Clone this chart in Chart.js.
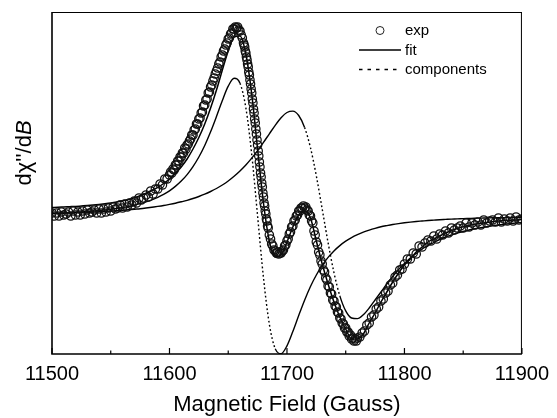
<!DOCTYPE html>
<html><head><meta charset="utf-8">
<script src="https://cdn.jsdelivr.net/npm/chart.js@4"></script>
<style>html,body{margin:0;padding:0;background:#fff}#wrap{width:557px;height:418px}</style>
</head><body><div id="wrap"><canvas id="c" width="557" height="418"></canvas></div>
<script>
// ---- tick labels / texts ----
const xTicks = [11500, 11600, 11700, 11800, 11900];
const xMinorTicks = [11550, 11650, 11750, 11850];
const legendLabels = ['exp', 'fit', 'components'];
const xTitle = 'Magnetic Field (Gauss)';
const yTitleMain = "d\u03c7''/d";
const yTitleItalic = 'B';

// ---- line series: sampled every 5 G from 11500 to 11900 ----
const lineStart = 11500, lineStep = 5;
const fitSignal = [8.5,8.7,9,9.3,9.6,10,10.4,10.9,11.5,12.2,13,14,15.2,16.6,18.3,20.3,22.7,25.5,28.7,32.5,37,
  42.5,49,57,67,78.5,92,108,126,146,165,179,180,162,122,67,13,-25,-41,-39,-26,
  -11,1,5,-2,-25,-48,-68,-86,-101,-113,-123,-123,-118,-107,-97,-86,-76,-66,-57,-49,
  -43,-36,-31,-26,-23,-20,-17,-14.5,-12.5,-10.8,-9.4,-8.2,-7.2,-6.4,-5.7,-5.1,-4.6,-4.2,-3.9,-3.6];
const narrowSignal = [2.6,2.9,3.1,3.4,3.7,4.1,4.5,5.0,5.5,6.1,6.8,7.6,8.5,9.6,10.8,12.3,14.1,16.2,18.7,21.6,25.2,
  29.6,34.9,41.4,49.4,59.0,70.5,84.2,99.5,115.5,129.8,137.7,132.8,108.2,61.7,0,-61.7,-108.2,-132.8,-137.7,-129.8,
  -115.5,-99.5,-84.2,-70.5,-59.0,-49.4,-41.4,-34.9,-29.6,-25.2,-21.6,-18.7,-16.2,-14.1,-12.3,-10.8,-9.6,-8.5,-7.6,-6.8,
  -6.1,-5.5,-5.0,-4.5,-4.1,-3.7,-3.4,-3.1,-2.9,-2.6,-2.4,-2.2,-2.1,-1.9,-1.8,-1.7,-1.6,-1.5,-1.4,-1.3];
const broadSignal = [2.5,2.6,2.8,3.0,3.2,3.4,3.7,3.9,4.2,4.6,4.9,5.3,5.7,6.2,6.8,7.3,8.0,8.8,9.6,10.5,11.6,
  12.8,14.2,15.7,17.5,19.5,21.8,24.5,27.5,31.0,35.0,39.7,45.0,51.0,57.9,65.4,73.6,82.2,90.7,98.2,103.5,
  104.9,100.5,88.6,68.3,40.1,6.9,-26.7,-56.7,-79.9,-94.9,-102.0,-102.6,-98.7,-92.0,-84.0,-76,-68,-60.5,-53.5,-47.5,
  -42,-37.5,-33,-29.5,-26.5,-23.5,-21,-19,-17,-15.5,-14,-12.8,-11.7,-10.7,-9.8,-9,-8.3,-7.6,-7,-6.5];

// ---- experimental points: sampling grid [start, step, count] and signal ----
const expGrid = [[11500,2,51],[11601,1,63],[11663.5,0.5,42],[11685,1,38],[11723,1,38],[11762,2,20],[11802.5,2.5,40]];
const expSignal = [
  3,0,3,0,4,1,2,4,0,5,1,4,1,5,2,6,3,4,6,3,7,3,7,4,8,5,9,7,8,11,8,12,9,13,11,15,13,18,16,18,21,19,25,22,27,27,32,31,37,37,41,
  44,43,47,46,51,51,55,55,59,59,63,63,68,67,71,72,75,77,81,81,86,87,92,92,97,98,103,104,110,111,116,117,123,124,129,131,
  135,138,142,145,148,152,154,159,161,165,167,171,173,177,178,182,183,187,187,189,188,189,186,185,181,178,173,
  171,169,165,163,159,156,152,149,144,141,136,132,127,123,117,113,107,103,97,93,87,82,76,71,65,60,54,49,43,39,33,29,23,19,13,10,5,2,-3,-5,-10,-12,
  -19,-23,-28,-30,-34,-35,-37,-36,-38,-37,-37,-35,-34,-30,-29,-25,-23,-18,-16,-11,-10,-5,-4,0,1,5,5,8,8,10,8,9,6,5,1,0,-5,-7,
  -15,-19,-26,-29,-36,-39,-45,-48,-54,-56,-62,-64,-70,-71,-77,-78,-84,-85,-90,-91,-96,-97,-102,-103,-107,-108,-112,-112,-116,-116,-120,-119,-123,-122,-125,-123,-125,-122,
  -121,-117,-115,-109,-107,-101,-99,-93,-91,-85,-83,-77,-75,-69,-67,-61,-59,-54,-53,-48,
  -43,-43,-37,-38,-30,-31,-27,-24,-25,-20,-23,-18,-19,-15,-17,-12,-14,-12,-10,-12,-7,-11,-7,-9,-6,-9,-4,-7,-5,-4,-6,-2,-6,-3,-5,-2,-5,-1,-4,-3
];

// ---- build point lists ----
const lineField = fitSignal.map((_, i) => lineStart + i * lineStep);
const expField = [];
expGrid.forEach(([s, st, n]) => { for (let i = 0; i < n; i++) expField.push(s + i * st); });
const pts = (xs, ys) => ys.map((y, i) => ({x: xs[i], y}));

const FONT = "'Liberation Sans', Arial, Helvetica, sans-serif";
// dotted look where the component line is steep (as in the original rendering)
const steepDash = c => Math.abs(c.p1.y - c.p0.y) > 3 * Math.abs(c.p1.x - c.p0.x) ? [1.8, 2.4] : undefined;

const decor = {
  id: 'decor',
  afterDraw(chart) {
    const {ctx, chartArea: {left, right, top, bottom}, scales: {x}} = chart;
    ctx.save();
    ctx.strokeStyle = '#000';
    ctx.lineWidth = 1;
    ctx.beginPath();
    ctx.moveTo(left, top + 0.5); ctx.lineTo(right, top + 0.5);
    ctx.moveTo(right - 0.5, top); ctx.lineTo(right - 0.5, bottom);
    ctx.stroke();
    ctx.lineWidth = 1.6;
    ctx.beginPath();
    ctx.moveTo(left, top); ctx.lineTo(left, bottom); ctx.lineTo(right, bottom);
    ctx.stroke();
    ctx.lineWidth = 1.2;
    ctx.beginPath();
    xTicks.forEach(v => { const p = x.getPixelForValue(v); ctx.moveTo(p, bottom); ctx.lineTo(p, bottom - 6); });
    xMinorTicks.forEach(v => { const p = x.getPixelForValue(v); ctx.moveTo(p, bottom); ctx.lineTo(p, bottom - 3.5); });
    ctx.stroke();

    // y axis title (rotated, with italic B)
    ctx.fillStyle = '#000';
    ctx.translate(31, 153);
    ctx.rotate(-Math.PI / 2);
    ctx.textBaseline = 'alphabetic';
    ctx.textAlign = 'left';
    const fN = '22px ' + FONT, fI = 'italic 22px ' + FONT;
    ctx.font = fN; const w1 = ctx.measureText(yTitleMain).width;
    ctx.font = fI; const w2 = ctx.measureText(yTitleItalic).width;
    const x0 = -(w1 + w2) / 2;
    ctx.font = fN; ctx.fillText(yTitleMain, x0, 0);
    ctx.font = fI; ctx.fillText(yTitleItalic, x0 + w1, 0);
    ctx.setTransform(1, 0, 0, 1, 0, 0);

    // legend
    const mx0 = 359, mx1 = 401, tx = 405;
    const rows = [30.5, 50, 69.5];
    const base = [34.5, 54.5, 74];
    ctx.lineWidth = 1;
    ctx.strokeStyle = '#222';
    ctx.beginPath(); ctx.arc((mx0 + mx1) / 2, rows[0], 4, 0, Math.PI * 2); ctx.stroke();
    ctx.strokeStyle = '#000';
    ctx.lineWidth = 1.5;
    ctx.beginPath(); ctx.moveTo(mx0, rows[1]); ctx.lineTo(mx1, rows[1]); ctx.stroke();
    ctx.setLineDash([3.5, 5]);
    ctx.beginPath(); ctx.moveTo(mx0, rows[2]); ctx.lineTo(mx1, rows[2]); ctx.stroke();
    ctx.setLineDash([]);
    ctx.font = '15px ' + FONT;
    ctx.textBaseline = 'alphabetic';
    legendLabels.forEach((t, i) => ctx.fillText(t, tx, base[i]));
    ctx.restore();
  }
};

new Chart(document.getElementById('c'), {
  type: 'scatter',
  data: {
    datasets: [
      {label: legendLabels[0], data: pts(expField, expSignal), showLine: false, pointRadius: 4.2, pointHoverRadius: 4.2,
        pointBorderWidth: 1.25, pointBorderColor: '#111', pointBackgroundColor: 'rgba(255,255,255,0)'},
      {label: legendLabels[1], data: pts(lineField, fitSignal), showLine: true, pointRadius: 0, borderColor: '#000',
        borderWidth: 1.5, cubicInterpolationMode: 'monotone'},
      {label: legendLabels[2], data: pts(lineField, narrowSignal), showLine: true, pointRadius: 0, borderColor: '#000',
        borderWidth: 1.4, cubicInterpolationMode: 'monotone', segment: {borderDash: steepDash}},
      {label: legendLabels[2], data: pts(lineField, broadSignal), showLine: true, pointRadius: 0, borderColor: '#000',
        borderWidth: 1.4, cubicInterpolationMode: 'monotone', segment: {borderDash: steepDash}}
    ]
  },
  options: {
    responsive: false, animation: false, devicePixelRatio: 1,
    layout: {padding: {top: 12, right: 31, left: 0, bottom: 0}},
    plugins: {legend: {display: false}, tooltip: {enabled: false}},
    scales: {
      x: {
        type: 'linear', min: 11500, max: 11900,
        afterFit: s => { s.height = 64; },
        afterBuildTicks: s => { s.ticks = xTicks.map(v => ({value: v})); },
        ticks: {font: {family: FONT, size: 20}, color: '#000', padding: 8, maxRotation: 0, autoSkip: false,
          callback: v => String(v)},
        grid: {display: false, drawTicks: false},
        border: {display: false},
        title: {display: true, text: xTitle, font: {family: FONT, size: 22}, color: '#000', padding: 0}
      },
      y: {
        type: 'linear', min: -138, max: 204,
        afterFit: s => { s.width = 52; },
        ticks: {display: false},
        grid: {display: false, drawTicks: false},
        border: {display: false}
      }
    }
  },
  plugins: [decor]
});
</script>
</body></html>
